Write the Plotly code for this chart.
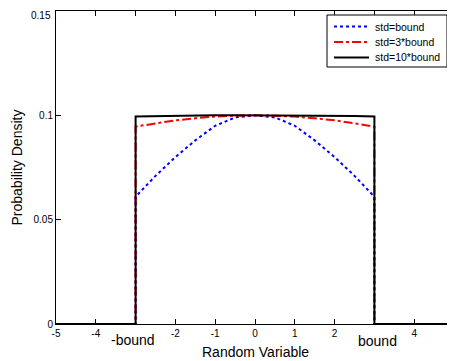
import plotly.graph_objects as go

# x positions (duplicated at the bounds for the vertical drops)
x_vals = [-5, -3, -3, -2.5, -2, -1.5, -1, -0.5, 0, 0.5, 1, 1.5, 2, 2.5, 3, 3, 5]
std_bound = [0, 0, 0.061, 0.071, 0.080, 0.088, 0.095, 0.099, 0.100, 0.099, 0.095, 0.088, 0.080, 0.071, 0.061, 0, 0]
std_3bound = [0, 0, 0.0946, 0.0962, 0.0976, 0.0986, 0.0994, 0.0998, 0.100, 0.0998, 0.0994, 0.0986, 0.0976, 0.0962, 0.0946, 0, 0]
std_10bound = [0, 0, 0.0995, 0.0997, 0.0998, 0.0999, 0.1, 0.1, 0.1, 0.1, 0.1, 0.0999, 0.0998, 0.0997, 0.0995, 0, 0]

series_names = ["std=bound", "std=3*bound", "std=10*bound"]
series_colors = ["blue", "red", "black"]
series_dashes = ["dot", "dashdot", "solid"]

x_ticks = [-5, -4, -3, -2, -1, 0, 1, 2, 3, 4, 5]
x_ticktext = ["-5", "-4", "", "-2", "-1", "0", "1", "2", "", "4", "5"]
y_ticks = [0, 0.05, 0.1, 0.15]
y_ticktext = ["0", "0.05", "0.1", ""]
y_top_label = "0.15"

fig = go.Figure()
for vals, name, col, dash in zip([std_bound, std_3bound, std_10bound], series_names,
                                 series_colors, series_dashes):
    fig.add_trace(go.Scatter(x=x_vals, y=vals, mode="lines", name=name, showlegend=False,
                             line=dict(color=col, width=2, dash=dash)))

# plot-area pixel helpers (plot area: x 56..454, y 11..324 in window pixels)
def px(xp):
    return (xp - 56) / 398.0

def py(yp):
    return (324 - yp) / 313.0

# legend box drawn like the MATLAB legend
fig.add_shape(type="rect", xref="paper", yref="paper", x0=px(327), x1=px(447), y0=py(67), y1=py(15),
              line=dict(color="black", width=1), fillcolor="white", layer="above")
for i, (name, col, dash) in enumerate(zip(series_names, series_colors, series_dashes)):
    yrow = 26.5 + i * 15.5
    fig.add_shape(type="line", xref="paper", yref="paper", x0=px(334), x1=px(369),
                  y0=py(yrow), y1=py(yrow), line=dict(color=col, width=2, dash=dash), layer="above")
    fig.add_annotation(x=px(373), y=py(yrow), xref="paper", yref="paper", text=name,
                       showarrow=False, xanchor="left", yanchor="middle",
                       font=dict(size=10.5, color="black"))

# top y tick label kept inside the page
fig.add_annotation(x=0, y=1, xref="paper", yref="paper", xshift=-3, yshift=3, text=y_top_label,
                   showarrow=False, xanchor="right", yanchor="top",
                   font=dict(size=10, color="black"))

fig.add_annotation(x=-3.06, y=0, xref="x", yref="paper", yshift=-16, text="-bound",
                   showarrow=False, font=dict(size=14, color="black"), yanchor="middle")
fig.add_annotation(x=3.08, y=0, xref="x", yref="paper", yshift=-17, text="bound",
                   showarrow=False, font=dict(size=14, color="black"), yanchor="middle")
fig.add_annotation(x=0.5, y=0, xref="paper", yref="paper", yshift=-28, text="Random Variable",
                   showarrow=False, font=dict(size=14, color="black"), yanchor="middle")
fig.add_annotation(x=0, y=0.5, xref="paper", yref="paper", xshift=-40, text="Probability Density",
                   textangle=-90, showarrow=False, font=dict(size=14, color="black"),
                   xanchor="center", yanchor="middle")

# page body adds an 8px offset; size the figure so it fits the 455x361 window
fig.update_layout(
    width=447, height=353,
    margin=dict(l=48, r=1, t=3, b=37, autoexpand=False),
    paper_bgcolor="white", plot_bgcolor="white",
    font=dict(family="Liberation Sans, Arial, sans-serif", color="black", size=11),
    xaxis=dict(range=[-5, 5], tickvals=x_ticks, ticktext=x_ticktext, ticks="inside",
               ticklen=5, tickcolor="black", showline=True, linecolor="black", linewidth=1,
               mirror="ticks", showgrid=False, zeroline=False, automargin=False,
               ticklabeloverflow="allow", tickfont=dict(size=10)),
    yaxis=dict(range=[0, 0.15], tickvals=y_ticks, ticktext=y_ticktext, ticks="inside",
               ticklen=5, tickcolor="black", showline=True, linecolor="black", linewidth=1,
               mirror="ticks", showgrid=False, zeroline=False, automargin=False,
               ticklabeloverflow="allow", tickfont=dict(size=10)),
    showlegend=False,
)

fig.write_html("out.html")
